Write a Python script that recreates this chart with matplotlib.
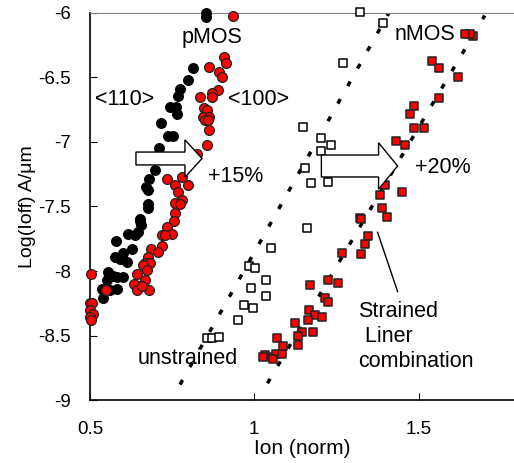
import matplotlib.pyplot as plt
from matplotlib.patches import FancyArrow

plt.rcParams['font.family'] = ['Liberation Sans', 'DejaVu Sans']

# pMOS <110> (black circles)
p110_x = [0.854, 0.852, 0.814, 0.799, 0.774, 0.768, 0.744, 0.762, 0.765, 0.716, 0.738, 0.753,
          0.710, 0.698, 0.680, 0.671, 0.677, 0.677, 0.677, 0.652, 0.655, 0.616, 0.637, 0.646,
          0.579, 0.628, 0.601, 0.576, 0.591, 0.613, 0.555, 0.570, 0.552, 0.582, 0.601, 0.537,
          0.561, 0.582, 0.540, 0.652]
p110_y = [-6.00, -6.03, -6.43, -6.52, -6.59, -6.64, -6.73, -6.73, -6.78, -6.85, -6.95, -6.95,
          -7.05, -7.22, -7.29, -7.35, -7.37, -7.48, -7.51, -7.61, -7.64, -7.71, -7.72, -7.70,
          -7.77, -7.83, -7.86, -7.89, -7.91, -7.93, -8.01, -8.04, -8.07, -8.05, -8.05, -8.14,
          -8.15, -8.14, -8.21, -7.60]

# pMOS <100> (red circles)
p100_x = [0.936, 0.909, 0.915, 0.863, 0.893, 0.902, 0.890, 0.872, 0.835, 0.872, 0.848, 0.857,
          0.845, 0.863, 0.851, 0.860, 0.863, 0.857, 0.826, 0.799, 0.780, 0.735, 0.759, 0.768,
          0.780, 0.759, 0.774, 0.759, 0.756, 0.735, 0.750, 0.720, 0.729, 0.720, 0.686, 0.707,
          0.677, 0.668, 0.683, 0.662, 0.674, 0.643, 0.668, 0.652, 0.634, 0.643, 0.680, 0.659,
          0.549, 0.503, 0.500, 0.506, 0.500, 0.509, 0.500, 0.502]
p100_y = [-6.02, -6.34, -6.39, -6.42, -6.46, -6.50, -6.60, -6.62, -6.65, -6.65, -6.74, -6.75,
          -6.81, -6.81, -6.83, -6.83, -6.91, -7.02, -7.09, -7.33, -7.27, -7.29, -7.33, -7.39,
          -7.45, -7.47, -7.48, -7.55, -7.61, -7.66, -7.71, -7.72, -7.72, -7.81, -7.83, -7.85,
          -7.89, -7.94, -7.94, -7.95, -7.99, -8.02, -8.07, -8.12, -8.10, -8.15, -8.15, -8.12,
          -8.15, -8.02, -8.25, -8.25, -8.30, -8.33, -8.36, -8.38]

# nMOS unstrained (open squares)
nun_x = [1.320, 1.390, 1.271, 1.149, 1.204, 1.232, 1.204, 1.155, 1.171, 1.223, 1.159, 1.052,
         0.985, 1.003, 1.037, 0.991, 1.037, 0.970, 0.997, 0.951, 0.857, 0.872, 0.893]
nun_y = [-5.99, -6.08, -6.39, -6.88, -6.97, -7.02, -7.07, -7.20, -7.32, -7.31, -7.67, -7.82,
         -7.96, -7.98, -8.07, -8.13, -8.19, -8.26, -8.29, -8.38, -8.52, -8.52, -8.51]

# nMOS strained liner (red squares)
nst_x = [1.665, 1.655, 1.640, 1.540, 1.561, 1.619, 1.561, 1.485, 1.473, 1.485, 1.515, 1.430,
         1.457, 1.399, 1.381, 1.448, 1.387, 1.405, 1.323, 1.326, 1.345, 1.338, 1.326, 1.268,
         1.223, 1.256, 1.168, 1.216, 1.223, 1.165, 1.186, 1.207, 1.125, 1.162, 1.180, 1.146,
         1.134, 1.070, 1.134, 1.088, 1.034, 1.055, 1.067, 1.085, 1.058, 1.027]
nst_y = [-6.18, -6.16, -6.16, -6.37, -6.43, -6.50, -6.66, -6.72, -6.78, -6.89, -6.89, -6.99,
         -7.02, -7.33, -7.41, -7.39, -7.51, -7.58, -7.59, -7.60, -7.73, -7.79, -7.87, -7.86,
         -8.07, -8.09, -8.11, -8.21, -8.24, -8.30, -8.34, -8.36, -8.40, -8.38, -8.47, -8.47,
         -8.50, -8.52, -8.57, -8.58, -8.65, -8.67, -8.64, -8.64, -8.68, -8.67]

# dotted trend lines
fit_unstr_x = [0.774, 1.409]
fit_unstr_y = [-8.88, -6.00]
fit_str_x = [1.040, 1.701]
fit_str_y = [-8.87, -6.02]

fig = plt.figure(figsize=(5.14, 4.63), dpi=100)
ax = fig.add_axes([0.175, 0.136, 0.825, 0.836])

ax.plot(fit_unstr_x, fit_unstr_y, color='black', lw=2.5, ls=(0, (1.5, 4.3)), zorder=1)
ax.plot(fit_str_x, fit_str_y, color='black', lw=2.5, ls=(0, (1.5, 4.3)), zorder=1)

ax.scatter(p110_x, p110_y, s=50, c='black', edgecolors='black', lw=0.8, zorder=3, clip_on=False)
ax.scatter(p100_x, p100_y, s=50, c='#ff0000', edgecolors='#222222', lw=0.9, zorder=3, clip_on=False)
ax.scatter(nun_x, nun_y, s=38, marker='s', c='white', edgecolors='black', lw=1.1, zorder=3, clip_on=False)
ax.scatter(nst_x, nst_y, s=38, marker='s', c='#ff0000', edgecolors='#222222', lw=1.1, zorder=3, clip_on=False)

# block arrows
ax.add_patch(FancyArrow(0.640, -7.128, 0.201, 0, width=0.10, head_width=0.29, head_length=0.052,
                        length_includes_head=True, fc='white', ec='black', lw=1.0, zorder=5))
ax.add_patch(FancyArrow(1.204, -7.186, 0.232, 0, width=0.17, head_width=0.36, head_length=0.058,
                        length_includes_head=True, fc='white', ec='black', lw=1.0, zorder=5))

fs = 15.5
ax.text(0.872, -6.19, 'pMOS', fontsize=fs, ha='center', va='center')
ax.text(0.607, -6.67, '<110>', fontsize=fs, ha='center', va='center')
ax.text(1.012, -6.67, '<100>', fontsize=fs, ha='center', va='center')
ax.text(0.942, -7.27, '+15%', fontsize=fs, ha='center', va='center')
ax.text(1.518, -6.17, 'nMOS', fontsize=fs, ha='center', va='center')
ax.text(1.573, -7.20, '+20%', fontsize=fs, ha='center', va='center')
ax.text(0.799, -8.68, 'unstrained', fontsize=fs, ha='center', va='center')
ax.text(1.317, -8.51, 'Strained\n Liner\ncombination', fontsize=fs, ha='left', va='center',
        linespacing=1.25)
ax.plot([1.375, 1.436], [-7.70, -8.16], color='black', lw=1.0, zorder=4)

ax.set_xlim(0.5, 1.79)
ax.set_ylim(-9, -6)
ax.set_xticks([0.5, 1, 1.5])
ax.set_xticklabels(['0.5', '1', '1.5'])
ax.set_yticks([-9, -8.5, -8, -7.5, -7, -6.5, -6])
ax.set_yticklabels(['-9', '-8.5', '-8', '-7.5', '-7', '-6.5', '-6'])
ax.tick_params(direction='in', length=5, labelsize=13.5)
ax.tick_params(axis='x', pad=15)
ax.tick_params(axis='y', pad=14)

ax.spines['top'].set_color('gray')
ax.spines['right'].set_visible(False)
ax.spines['left'].set_linewidth(1.2)
ax.spines['bottom'].set_linewidth(1.2)

ax.set_xlabel('Ion (norm)', fontsize=15, labelpad=1)
ax.set_ylabel('Log(Ioff) A/μm', fontsize=14, labelpad=1)

fig.savefig('out.png', dpi=100)
